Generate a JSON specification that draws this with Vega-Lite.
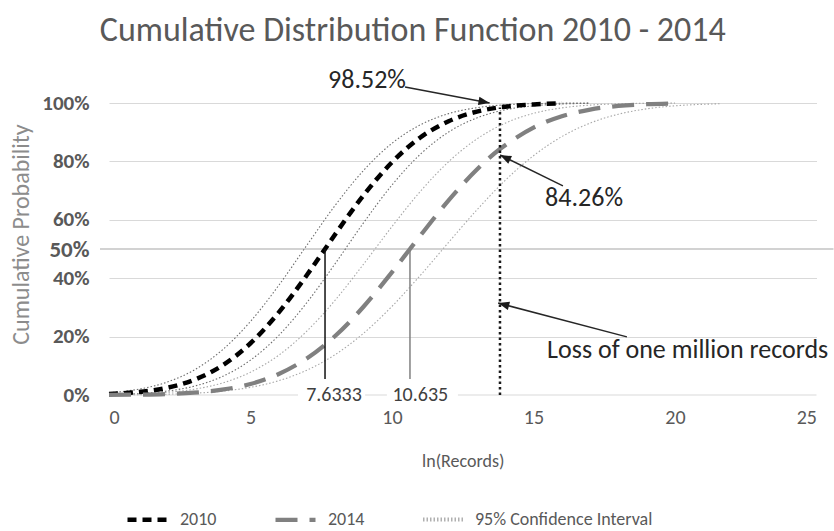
{
  "$schema": "https://vega.github.io/schema/vega-lite/v6.json",
  "width": 707.5,
  "height": 292,
  "autosize": {"type": "none"},
  "padding": {"left": 109, "top": 103, "right": 17.5, "bottom": 136},
  "background": "white",
  "config": {"font": "Carlito, Lato, sans-serif", "view": {"stroke": null}},
  "title": {"text": "Cumulative Distribution Function 2010 - 2014", "fontSize": 34, "fontWeight": "normal", "color": "#595959", "anchor": "middle", "frame": "group", "dx": -50, "offset": 19},
  "datasets": {
    "curves": [
      {"series": "2010", "x": 0, "y": 0.0036}, {"series": "2010", "x": 1, "y": 0.0098}, {"series": "2010", "x": 2, "y": 0.0237}, {"series": "2010", "x": 3, "y": 0.0516}, {"series": "2010", "x": 4, "y": 0.1006}, {"series": "2010", "x": 5, "y": 0.1772}, {"series": "2010", "x": 6, "y": 0.2828}, {"series": "2010", "x": 7, "y": 0.4118}, {"series": "2010", "x": 7.6333, "y": 0.5}, {"series": "2010", "x": 8, "y": 0.5513}, {"series": "2010", "x": 9, "y": 0.6846}, {"series": "2010", "x": 10, "y": 0.7973}, {"series": "2010", "x": 11, "y": 0.8818}, {"series": "2010", "x": 12, "y": 0.9376}, {"series": "2010", "x": 13, "y": 0.9705}, {"series": "2010", "x": 13.8155, "y": 0.9852}, {"series": "2010", "x": 14, "y": 0.9874}, {"series": "2010", "x": 15, "y": 0.9952}, {"series": "2010", "x": 16, "y": 0.9984},
      {"series": "2014", "x": 0, "y": 0.0004}, {"series": "2014", "x": 1, "y": 0.0012}, {"series": "2014", "x": 2, "y": 0.0032}, {"series": "2014", "x": 3, "y": 0.008}, {"series": "2014", "x": 4, "y": 0.0181}, {"series": "2014", "x": 5, "y": 0.0377}, {"series": "2014", "x": 6, "y": 0.072}, {"series": "2014", "x": 7, "y": 0.126}, {"series": "2014", "x": 8, "y": 0.203}, {"series": "2014", "x": 9, "y": 0.303}, {"series": "2014", "x": 10, "y": 0.4207}, {"series": "2014", "x": 10.635, "y": 0.5}, {"series": "2014", "x": 11, "y": 0.5457}, {"series": "2014", "x": 12, "y": 0.6666}, {"series": "2014", "x": 13, "y": 0.7721}, {"series": "2014", "x": 13.8155, "y": 0.8426}, {"series": "2014", "x": 14, "y": 0.8556}, {"series": "2014", "x": 15, "y": 0.9157}, {"series": "2014", "x": 16, "y": 0.9547}, {"series": "2014", "x": 17, "y": 0.9776}, {"series": "2014", "x": 18, "y": 0.9899}, {"series": "2014", "x": 19, "y": 0.9958}, {"series": "2014", "x": 20, "y": 0.9984}
    ],
    "ci": [
      {"grp": "2010", "curve": "2010a", "x": 0, "y": 0.0076}, {"grp": "2010", "curve": "2010a", "x": 1, "y": 0.019}, {"grp": "2010", "curve": "2010a", "x": 2, "y": 0.0424}, {"grp": "2010", "curve": "2010a", "x": 3, "y": 0.0851}, {"grp": "2010", "curve": "2010a", "x": 4, "y": 0.1539}, {"grp": "2010", "curve": "2010a", "x": 5, "y": 0.252}, {"grp": "2010", "curve": "2010a", "x": 6, "y": 0.3757}, {"grp": "2010", "curve": "2010a", "x": 7, "y": 0.514}, {"grp": "2010", "curve": "2010a", "x": 8, "y": 0.6505}, {"grp": "2010", "curve": "2010a", "x": 9, "y": 0.7697}, {"grp": "2010", "curve": "2010a", "x": 10, "y": 0.8622}, {"grp": "2010", "curve": "2010a", "x": 11, "y": 0.9252}, {"grp": "2010", "curve": "2010a", "x": 12, "y": 0.9637}, {"grp": "2010", "curve": "2010a", "x": 13, "y": 0.984}, {"grp": "2010", "curve": "2010a", "x": 14, "y": 0.9938}, {"grp": "2010", "curve": "2010a", "x": 15, "y": 0.9978}, {"grp": "2010", "curve": "2010a", "x": 16, "y": 0.9993}, {"grp": "2010", "curve": "2010a", "x": 17, "y": 0.9998},
      {"grp": "2010", "curve": "2010b", "x": 0, "y": 0.0017}, {"grp": "2010", "curve": "2010b", "x": 1, "y": 0.0049}, {"grp": "2010", "curve": "2010b", "x": 2, "y": 0.0128}, {"grp": "2010", "curve": "2010b", "x": 3, "y": 0.0299}, {"grp": "2010", "curve": "2010b", "x": 4, "y": 0.0631}, {"grp": "2010", "curve": "2010b", "x": 5, "y": 0.1194}, {"grp": "2010", "curve": "2010b", "x": 6, "y": 0.2044}, {"grp": "2010", "curve": "2010b", "x": 7, "y": 0.3175}, {"grp": "2010", "curve": "2010b", "x": 8, "y": 0.4511}, {"grp": "2010", "curve": "2010b", "x": 9, "y": 0.5905}, {"grp": "2010", "curve": "2010b", "x": 10, "y": 0.7192}, {"grp": "2010", "curve": "2010b", "x": 11, "y": 0.8243}, {"grp": "2010", "curve": "2010b", "x": 12, "y": 0.9005}, {"grp": "2010", "curve": "2010b", "x": 13, "y": 0.949}, {"grp": "2010", "curve": "2010b", "x": 14, "y": 0.9767}, {"grp": "2010", "curve": "2010b", "x": 15, "y": 0.9903}, {"grp": "2010", "curve": "2010b", "x": 16, "y": 0.9965}, {"grp": "2010", "curve": "2010b", "x": 17, "y": 0.9988},
      {"grp": "2014", "curve": "2014a", "x": 0, "y": 0.0012}, {"grp": "2014", "curve": "2014a", "x": 1, "y": 0.0034}, {"grp": "2014", "curve": "2014a", "x": 2, "y": 0.0085}, {"grp": "2014", "curve": "2014a", "x": 3, "y": 0.0196}, {"grp": "2014", "curve": "2014a", "x": 4, "y": 0.0409}, {"grp": "2014", "curve": "2014a", "x": 5, "y": 0.0781}, {"grp": "2014", "curve": "2014a", "x": 6, "y": 0.1364}, {"grp": "2014", "curve": "2014a", "x": 7, "y": 0.2197}, {"grp": "2014", "curve": "2014a", "x": 8, "y": 0.3258}, {"grp": "2014", "curve": "2014a", "x": 9, "y": 0.4487}, {"grp": "2014", "curve": "2014a", "x": 10, "y": 0.5769}, {"grp": "2014", "curve": "2014a", "x": 11, "y": 0.697}, {"grp": "2014", "curve": "2014a", "x": 12, "y": 0.7989}, {"grp": "2014", "curve": "2014a", "x": 13, "y": 0.8769}, {"grp": "2014", "curve": "2014a", "x": 14, "y": 0.931}, {"grp": "2014", "curve": "2014a", "x": 15, "y": 0.9645}, {"grp": "2014", "curve": "2014a", "x": 16, "y": 0.9833}, {"grp": "2014", "curve": "2014a", "x": 17, "y": 0.9928}, {"grp": "2014", "curve": "2014a", "x": 18, "y": 0.9972}, {"grp": "2014", "curve": "2014a", "x": 19, "y": 0.999}, {"grp": "2014", "curve": "2014a", "x": 20, "y": 0.9997},
      {"grp": "2014", "curve": "2014b", "x": 0, "y": 0.0004}, {"grp": "2014", "curve": "2014b", "x": 1, "y": 0.001}, {"grp": "2014", "curve": "2014b", "x": 2, "y": 0.0026}, {"grp": "2014", "curve": "2014b", "x": 3, "y": 0.006}, {"grp": "2014", "curve": "2014b", "x": 4, "y": 0.013}, {"grp": "2014", "curve": "2014b", "x": 5, "y": 0.0262}, {"grp": "2014", "curve": "2014b", "x": 6, "y": 0.049}, {"grp": "2014", "curve": "2014b", "x": 7, "y": 0.0854}, {"grp": "2014", "curve": "2014b", "x": 8, "y": 0.1389}, {"grp": "2014", "curve": "2014b", "x": 9, "y": 0.2119}, {"grp": "2014", "curve": "2014b", "x": 10, "y": 0.3037}, {"grp": "2014", "curve": "2014b", "x": 11, "y": 0.4095}, {"grp": "2014", "curve": "2014b", "x": 12, "y": 0.5227}, {"grp": "2014", "curve": "2014b", "x": 13, "y": 0.634}, {"grp": "2014", "curve": "2014b", "x": 14, "y": 0.7351}, {"grp": "2014", "curve": "2014b", "x": 15, "y": 0.8195}, {"grp": "2014", "curve": "2014b", "x": 16, "y": 0.8849}, {"grp": "2014", "curve": "2014b", "x": 17, "y": 0.9312}, {"grp": "2014", "curve": "2014b", "x": 18, "y": 0.9616}, {"grp": "2014", "curve": "2014b", "x": 19, "y": 0.98}, {"grp": "2014", "curve": "2014b", "x": 20, "y": 0.9904}, {"grp": "2014", "curve": "2014b", "x": 21, "y": 0.9956}, {"grp": "2014", "curve": "2014b", "x": 21.6, "y": 0.9974}
    ],
    "zeroline": [
      {"x": 0, "x2": 6.68, "y": 0}, {"x": 9.05, "x2": 9.82, "y": 0}, {"x": 12.33, "x2": 25, "y": 0}
    ],
    "halfline": [{"x": -0.32, "x2": 25.6, "y": 0.5}],
    "medians": [
      {"year": "2010", "x": 7.6333, "y": 0.055, "y2": 0.5},
      {"year": "2014", "x": 10.635, "y": 0.055, "y2": 0.5}
    ],
    "medianLabels": [
      {"label": "7.6333", "x": 7.95, "y": 0},
      {"label": "10.635", "x": 11.0, "y": 0}
    ],
    "million": [{"x": 13.8155, "y": 0, "y2": 0.985}],
    "shafts": [
      {"x": 10.46, "y": 1.055, "x2": 13.45, "y2": 1.0},
      {"x": 16.04, "y": 0.716, "x2": 13.82, "y2": 0.822},
      {"x": 18.3, "y": 0.199, "x2": 13.75, "y2": 0.315}
    ],
    "notes": [
      {"label": "98.52%", "x": 7.74, "y": 1.079},
      {"label": "84.26%", "x": 15.41, "y": 0.675},
      {"label": "Loss of one million records", "x": 15.48, "y": 0.154}
    ]
  },
  "encoding": {
    "x": {"field": "x", "type": "quantitative", "scale": {"domain": [0, 25], "nice": false, "zero": false},
      "axis": {"values": [0, 5, 10, 15, 20, 25], "grid": false, "domain": false, "ticks": false, "labelFontSize": 20, "labelColor": "#595959", "labelPadding": 12, "title": "ln(Records)", "titleFontSize": 18, "titleColor": "#595959", "titleFontWeight": "normal", "titlePadding": 25}},
    "y": {"field": "y", "type": "quantitative", "scale": {"domain": [0, 1], "nice": false},
      "axis": {"values": [0, 0.2, 0.4, 0.5, 0.6, 0.8, 1], "format": ".0%", "grid": true,
        "gridColor": {"condition": {"test": "datum.value === 0.5 || datum.value === 0", "value": "transparent"}, "value": "#d9d9d9"},
        "labelFontSize": {"condition": {"test": "datum.value === 0.5", "value": 23}, "value": 21},
        "domain": false, "ticks": false, "labelFontWeight": "bold", "labelColor": "#595959", "labelPadding": 20,
        "title": "Cumulative Probability", "titleFontSize": 24, "titleColor": "#8c8c8c", "titleFontWeight": "normal", "titlePadding": 8, "titleY": 131}}
  },
  "layer": [
    {"data": {"name": "zeroline"}, "mark": {"type": "rule", "color": "#d9d9d9", "strokeWidth": 1}, "encoding": {"x2": {"field": "x2"}}},
    {"data": {"name": "halfline"}, "mark": {"type": "rule", "color": "#a6a6a6", "strokeWidth": 1.2}, "encoding": {"x2": {"field": "x2"}}},
    {"data": {"name": "ci"}, "mark": {"type": "line", "interpolate": "monotone", "strokeWidth": 1.1, "strokeDash": [1.5, 2]},
      "encoding": {"detail": {"field": "curve"}, "stroke": {"condition": {"test": "datum.grp === '2010'", "value": "#6e6e6e"}, "value": "#a8a8a8"}}},
    {"data": {"name": "curves"}, "mark": {"type": "line", "interpolate": "monotone", "strokeCap": "butt"},
      "encoding": {
        "color": {"field": "series", "type": "nominal", "scale": {"domain": ["2010", "2014", "95% Confidence Interval"], "range": ["#000000", "#808080", "#b0b0b0"]},
          "legend": {"title": null, "orient": "none", "legendX": 16, "legendY": 394, "direction": "horizontal", "symbolType": "stroke", "symbolSize": 1600, "labelFontSize": 18, "labelColor": "#595959", "labelLimit": 400, "columnPadding": 50, "labelOffset": 10}},
        "strokeDash": {"field": "series", "type": "nominal", "scale": {"domain": ["2010", "2014", "95% Confidence Interval"], "range": [[9, 6], [22, 12], [1.5, 2]]}, "legend": {"title": null}},
        "strokeWidth": {"field": "series", "type": "nominal", "scale": {"domain": ["2010", "2014", "95% Confidence Interval"], "range": [4.5, 4, 1.2]}, "legend": {"title": null}}
      }},
    {"data": {"name": "medians"}, "mark": {"type": "rule", "strokeWidth": 1.5},
      "encoding": {"y2": {"field": "y2"}, "stroke": {"condition": {"test": "datum.year === '2010'", "value": "#111111"}, "value": "#808080"}}},
    {"data": {"name": "million"}, "mark": {"type": "rule", "color": "#1a1a1a", "strokeWidth": 2.5, "strokeDash": [2.5, 3]}, "encoding": {"y2": {"field": "y2"}}},
    {"data": {"name": "medianLabels"}, "mark": {"type": "text", "fontSize": 20, "color": "#404040", "align": "center", "baseline": "middle"}, "encoding": {"text": {"field": "label"}}},
    {"data": {"name": "shafts"}, "mark": {"type": "rule", "color": "#262626", "strokeWidth": 1.5}, "encoding": {"x2": {"field": "x2"}, "y2": {"field": "y2"}}},
    {"data": {"values": [{"x": 13.45, "y": 1.0}]}, "mark": {"type": "point", "filled": true, "color": "#1a1a1a", "opacity": 1, "size": 500, "shape": "M0,0L-1,-0.38L-1,0.38Z", "angle": 10.7}},
    {"data": {"values": [{"x": 13.82, "y": 0.822}]}, "mark": {"type": "point", "filled": true, "color": "#1a1a1a", "opacity": 1, "size": 500, "shape": "M0,0L-1,-0.38L-1,0.38Z", "angle": 206.2}},
    {"data": {"values": [{"x": 13.75, "y": 0.315}]}, "mark": {"type": "point", "filled": true, "color": "#1a1a1a", "opacity": 1, "size": 500, "shape": "M0,0L-1,-0.38L-1,0.38Z", "angle": 194.8}},
    {"data": {"name": "notes"}, "mark": {"type": "text", "fontSize": 26, "color": "#262626", "align": "left", "baseline": "middle"}, "encoding": {"text": {"field": "label"}}}
  ]
}
